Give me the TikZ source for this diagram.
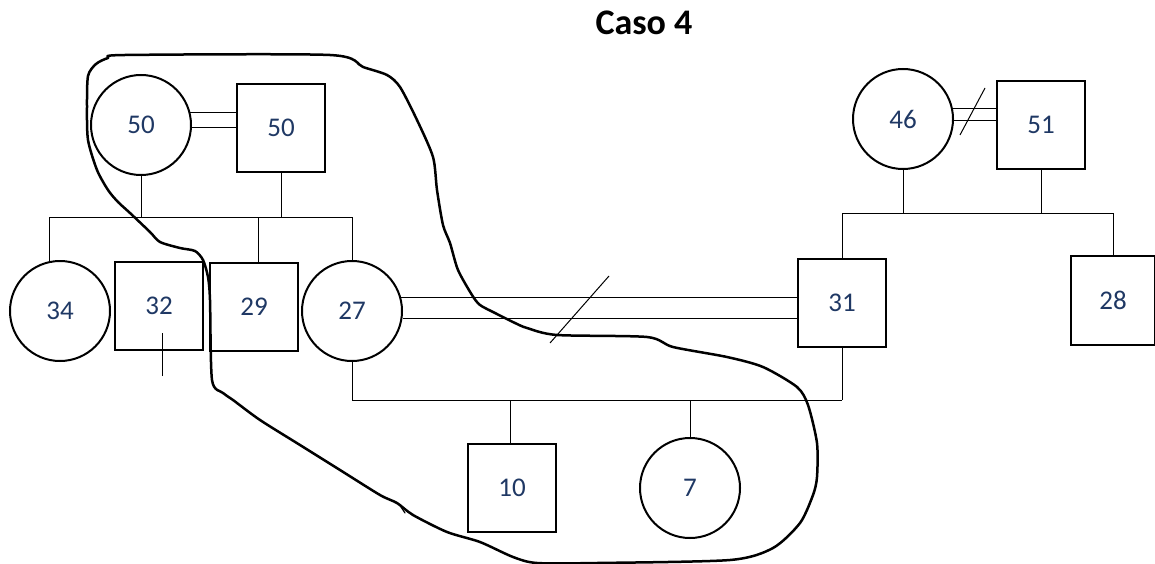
\documentclass[tikz,border=0pt]{standalone}
\usepackage{fontspec}
\setmainfont{Carlito}
\usetikzlibrary{positioning}
\definecolor{agenum}{RGB}{31,56,100}
\newcommand\agefont{\fontsize{27}{32}\selectfont}

\begin{document}
\begin{tikzpicture}[x=1pt,y=-1pt,on grid,
    every node/.style={text=agenum,font=\agefont},
    female/.style={circle,draw,line width=2pt,minimum size=100pt,inner sep=0pt},
    male/.style={rectangle,draw,line width=2pt,minimum size=88pt,inner sep=0pt},
    link/.style={line width=1pt},
    freehand/.style={line width=2.5pt,line join=round,line cap=round}]
  \useasboundingbox (0,0) rectangle (1155,564);
  \node[text=black,font=\fontsize{36}{40}\selectfont\bfseries] (title) at (644,23) {Caso 4};
  % left grandparents and their children
  \node[female] (f50) at (141,125) {50};
  \node[male]   (m50) at (281,128) {50};
  \node[female] (f34) at (60,311) {34};
  \node[male]   (m32) at (159,306) {32};
  \node[male]   (m29) at (254,307) {29};
  \node[female] (f27) at (352,311) {27};
  % right grandparents and their children
  \node[female] (f46) at (903,119) {46};
  \node[male]   (m51) at (1041,125) {51};
  \node[male]   (m31) at (842,303) {31};
  \node[male, minimum width=84pt, minimum height=89pt] (m28) at (1113,300) {28};
  % grandchildren
  \node[male]   (m10) at (512,488) {10};
  \node[female] (f7) [right=178pt of m10] {7};

  % couples
  \draw[link] (f50.14) -- (f50.14 -| m50.west)
              (f50.-3) -- (f50.-3 -| m50.west);
  \draw[link] (f46.12) -- (f46.12 -| m51.west)
              (f46.-2) -- (f46.-2 -| m51.west);
  \draw[link] (f27.15) -- (f27.15 -| m31.west)
              (f27.-8) -- (f27.-8 -| m31.west);
  \coordinate (cut1) at (972,111);
  \coordinate (cut2) at (580,309);
  \draw[link] (cut1) ++(-12,24) -- ++(25,-47);
  \draw[link] (cut2) ++(-30,34) -- ++(59,-67);

  % sibships
  \coordinate (sibA) at (49,217);
  \draw[link] (sibA) -- (sibA -| f27.north);
  \draw[link] (f50.south) -- (f50.south |- sibA)
              (m50.south) -- (m50.south |- sibA)
              (f34.102) -- (f34.102 |- sibA)
              ([xshift=4pt]m29.north) -- ([xshift=4pt]m29.north |- sibA)
              (f27.north) -- (f27.north |- sibA);
  \coordinate (sibB) at (842,213);
  \draw[link] (sibB) -- (sibB -| m28.north);
  \draw[link] (f46.south) -- (f46.south |- sibB)
              (m51.south) -- (m51.south |- sibB)
              (m31.north) -- (m31.north |- sibB)
              (m28.north) -- (m28.north |- sibB);
  \coordinate (sibC) at (352,400);
  \draw[link] (sibC) -- (sibC -| m31.south);
  \draw[link] (f27.south) -- (f27.south |- sibC)
              (m31.south) -- (m31.south |- sibC)
              ([xshift=-2pt]m10.north) -- ([xshift=-2pt]m10.north |- sibC)
              (f7.north) -- (f7.north |- sibC);
  \coordinate (m32tick) at (162,376);
  \draw[link] (m32tick) -- ++(0,-43);

  % hand drawn loop
  \draw[freehand] plot[smooth cycle, tension=0.45] coordinates {
    (88,76) (96,64) (108,58) (125,55) (330,55) (363,67) (387,75) (400,87)
    (417,120) (433,157) (437,190) (443,225) (450,243) (458,270)
    (472,295) (480,305) (495,313) (515,323) (527,328) (557,335)
    (647,337) (673,347) (727,357) (763,367) (797,387) (808,405)
    (817,443) (817,477) (813,495) (800,523) (773,548) (730,560)
    (597,563) (537,563) (513,557) (480,542) (447,532) (413,515)
    (397,503) (380,495) (340,470) (300,445) (260,420) (233,400)
    (223,393) (212,380) (210,300) (208,277) (203,260) (195,251)
    (180,248) (160,242) (150,232) (130,213) (118,202) (108,190)
    (97,170) (88,140) (87,107)};
  \draw[freehand, line width=1.2pt] (399,504) -- (405,513);
\end{tikzpicture}
\end{document}
